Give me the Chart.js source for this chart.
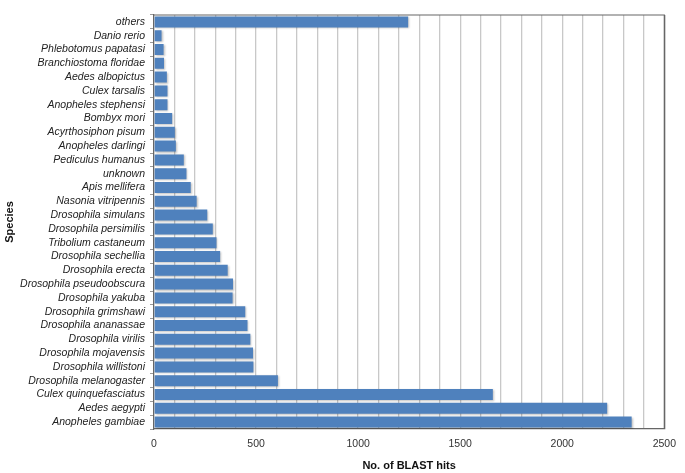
<!DOCTYPE html>
<html>
<head>
<meta charset="utf-8">
<script src="https://cdn.jsdelivr.net/npm/chart.js@4"></script>
<style>
  body { margin: 0; background: #fff; }
  #wrap { width: 685px; height: 473px; }
</style>
</head>
<body>
<div id="wrap"><canvas id="myChart" width="685" height="473"></canvas></div>
<script>
// data (top to bottom)
const species = [
  "others", "Danio rerio", "Phlebotomus papatasi", "Branchiostoma floridae",
  "Aedes albopictus", "Culex tarsalis", "Anopheles stephensi", "Bombyx mori",
  "Acyrthosiphon pisum", "Anopheles darlingi", "Pediculus humanus", "unknown",
  "Apis mellifera", "Nasonia vitripennis", "Drosophila simulans",
  "Drosophila persimilis", "Tribolium castaneum", "Drosophila sechellia",
  "Drosophila erecta", "Drosophila pseudoobscura", "Drosophila yakuba",
  "Drosophila grimshawi", "Drosophila ananassae", "Drosophila virilis",
  "Drosophila mojavensis", "Drosophila willistoni", "Drosophila melanogaster",
  "Culex quinquefasciatus", "Aedes aegypti", "Anopheles gambiae"
];
const hits = [
  1245, 37, 47, 49, 63, 66, 66, 89, 102, 107, 146, 159, 180, 209, 261,
  288, 306, 324, 361, 387, 385, 447, 458, 472, 485, 487, 607,
  1660, 2220, 2340
];
const xTickLabels = [0, 500, 1000, 1500, 2000, 2500];

// frame on top and right of the plot area
const frame = {
  id: "frame",
  afterDraw(chart) {
    const { ctx, chartArea: a } = chart;
    ctx.save();
    ctx.strokeStyle = "#666";
    ctx.lineWidth = 1.2;
    ctx.beginPath();
    ctx.moveTo(a.left, a.top);
    ctx.lineTo(a.right, a.top);
    ctx.lineTo(a.right, a.bottom);
    ctx.stroke();
    ctx.restore();
  }
};

// soft shadow under the bars
const barShadow = {
  id: "barShadow",
  beforeDatasetsDraw(chart) {
    const ctx = chart.ctx;
    ctx.save();
    ctx.shadowColor = "rgba(0,0,0,0.25)";
    ctx.shadowBlur = 2;
    ctx.shadowOffsetX = 1;
    ctx.shadowOffsetY = 1;
  },
  afterDatasetsDraw(chart) {
    chart.ctx.restore();
  }
};

const config = {
  type: "bar",
  data: {
    labels: species,
    datasets: [{
      data: hits,
      backgroundColor: "#4f81bd",
      borderWidth: 0,
      categoryPercentage: 0.8,
      barPercentage: 1
    }]
  },
  options: {
    indexAxis: "y",
    responsive: false,
    animation: false,
    layout: { padding: { top: 15, right: 16, left: 3, bottom: 0 } },
    plugins: { legend: { display: false }, tooltip: { enabled: false } },
    scales: {
      x: {
        min: 0,
        max: 2500,
        afterBuildTicks(scale) {
          const t = [];
          for (let v = 0; v <= 2500; v += 100) t.push({ value: v });
          scale.ticks = t;
        },
        afterFit(scale) { scale.height = 44; },
        ticks: {
          autoSkip: false,
          maxRotation: 0,
          padding: 9,
          color: "#333",
          font: { family: "Liberation Sans, Arial", size: 10.5 },
          callback: (v) => xTickLabels.includes(v) ? String(v) : ""
        },
        grid: {
          color: (c) => c.tick && c.tick.value === 2500 ? "#666" : "#c8c8c8",
          lineWidth: 1.3,
          drawTicks: false
        },
        border: { color: "#666", width: 1.2 },
        title: {
          display: true,
          text: "No. of BLAST hits",
          color: "#111",
          font: { family: "Liberation Sans, Arial", size: 11, weight: "bold" },
          padding: { top: 11, bottom: 0 }
        }
      },
      y: {
        afterFit(scale) { scale.width = 151; },
        ticks: {
          autoSkip: false,
          color: "#222",
          padding: 5,
          font: { family: "Liberation Sans, Arial", size: 10.5, style: "italic" }
        },
        grid: {
          offset: true,
          drawOnChartArea: false,
          tickLength: 4,
          color: "#999"
        },
        border: { color: "#666", width: 1.2 },
        title: {
          display: true,
          text: "Species",
          color: "#111",
          font: { family: "Liberation Sans, Arial", size: 11, weight: "bold" },
          padding: { top: 0, bottom: 0 }
        }
      }
    }
  },
  plugins: [frame, barShadow]
};

const chart = document.getElementById("myChart");
new Chart(chart, config);
</script>
</body>
</html>
